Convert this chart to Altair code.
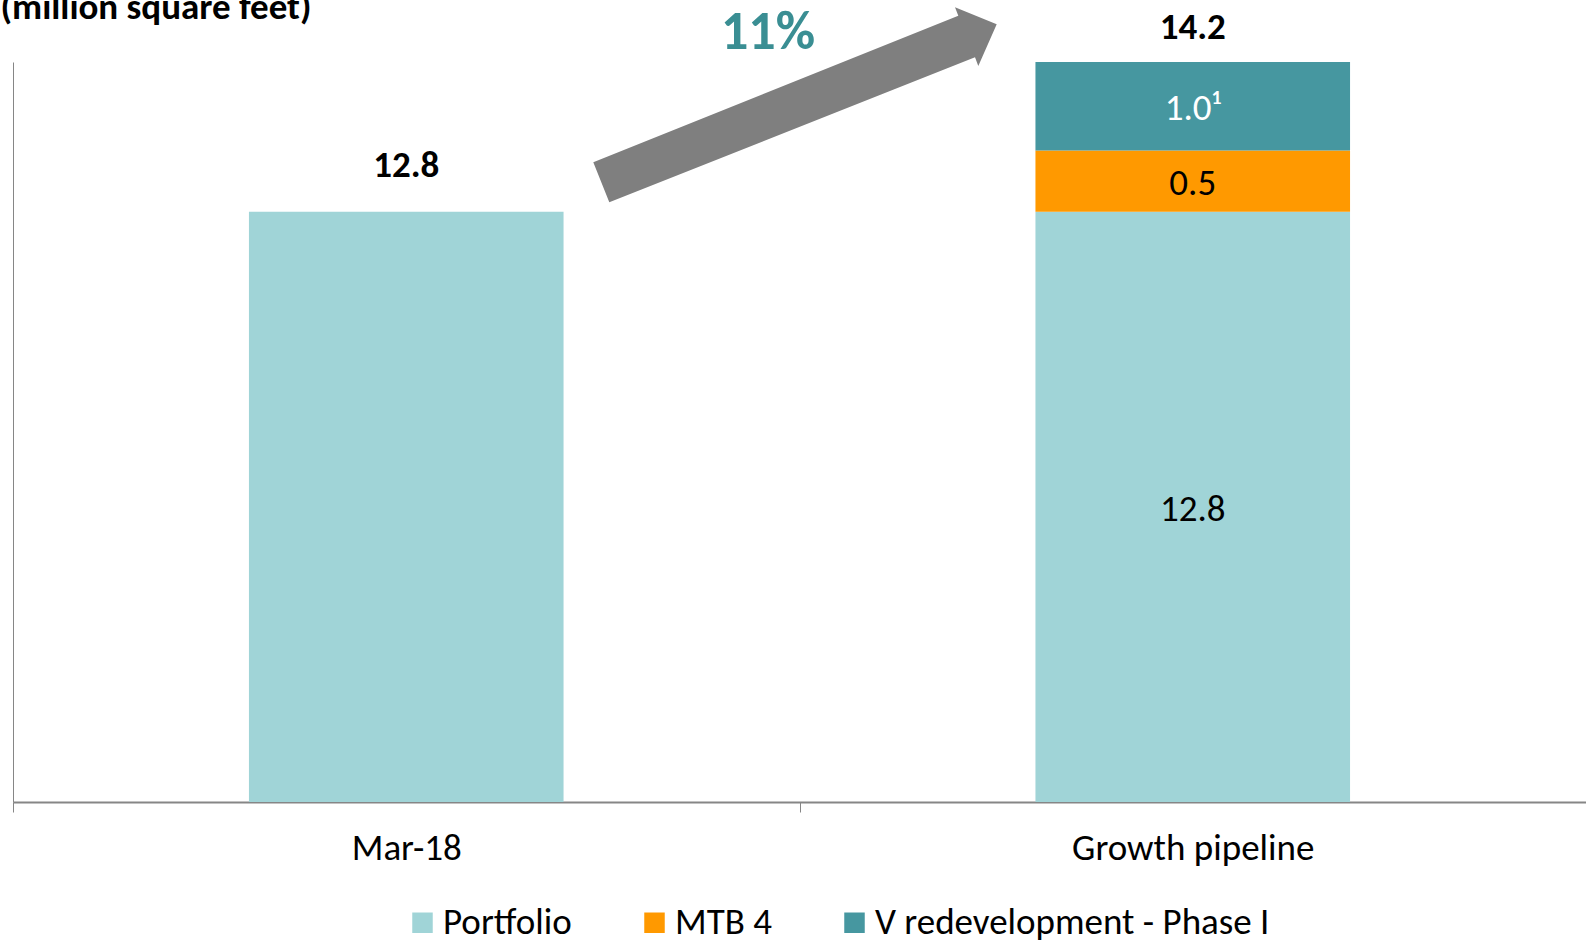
import altair as alt
import pandas as pd

FONT = "Carlito, Lato, sans-serif"

categories = ["Mar-18", "Growth pipeline"]
series = ["Portfolio", "MTB 4", "V redevelopment - Phase I"]
colors = ["#A0D4D7", "#FF9900", "#4697A0"]

# segments (heights as drawn in the reference; the chart is not drawn to scale)
seg_category = ["Mar-18", "Growth pipeline", "Growth pipeline", "Growth pipeline"]
seg_series = ["Portfolio", "Portfolio", "MTB 4", "V redevelopment - Phase I"]
seg_drawn = [12.8, 12.8, 1.33, 1.92]
seg_label = ["", "12.8", "0.5", "1.0\u00b9"]
seg_label_color = ["black", "black", "black", "white"]

totals = [12.8, 14.2]
total_dy = [-46, -34]

growth_pct = f"{round((totals[1] / totals[0] - 1) * 100)}%"

FS = 37

# ---- build tables ----
rows = []
cum = {c: 0.0 for c in categories}
for c, s, h, lab, col in zip(seg_category, seg_series, seg_drawn, seg_label, seg_label_color):
    y0 = cum[c]
    y1 = y0 + h
    cum[c] = y1
    rows.append(dict(category=c, series=s, y0=y0, y1=y1, mid=(y0 + y1) / 2,
                     label=lab, label_color=col))
seg = pd.DataFrame(rows)
tot = pd.DataFrame(dict(category=categories, total=[f"{t:.1f}" for t in totals],
                        top=[cum[c] for c in categories], dy=total_dy))
ymax = max(cum.values())

xenc = alt.X("category:N", sort=categories,
             scale=alt.Scale(paddingInner=0, paddingOuter=0),
             axis=alt.Axis(title=None, labelAngle=0, labelFontSize=FS, labelColor="black",
                           labelFont=FONT, labelLimit=0, domainColor="#868686", domainWidth=2,
                           tickColor="#868686", tickWidth=1, tickSize=10,
                           tickBand="extent", labelPadding=18))
yscale = alt.Scale(domain=[0, ymax], nice=False, zero=True)

base = alt.Chart(seg)

bars = base.mark_bar(width=alt.RelativeBandSize(0.4)).encode(
    x=xenc,
    y=alt.Y("y1:Q", scale=yscale,
            axis=alt.Axis(title="(million square feet)", titleAngle=0, titleAlign="left",
                          titleBaseline="alphabetic", titleX=-13, titleY=-44,
                          titleFontSize=FS, titleFontWeight="bold", titleColor="black",
                          titleFont=FONT, labels=False, ticks=False, grid=False,
                          domainColor="#868686", domainWidth=1)),
    y2="y0:Q",
    color=alt.Color("series:N", scale=alt.Scale(domain=series, range=colors),
                    legend=alt.Legend(title=None, orient="none", legendX=391, legendY=842,
                                      direction="horizontal", symbolType="square",
                                      symbolSize=420, symbolStrokeWidth=0,
                                      labelFontSize=FS, labelFont=FONT, labelColor="black",
                                      labelLimit=0, labelOffset=2, columnPadding=64)),
)

seg_text = base.transform_filter(alt.datum.label != "").mark_text(
    fontSize=FS, font=FONT, baseline="middle", align="center", dy=3
).encode(
    x=alt.X("category:N", sort=categories),
    y=alt.Y("mid:Q"),
    text="label:N",
    color=alt.Color("label_color:N", scale=None),
)

tot_layers = []
for c, d in zip(categories, total_dy):
    tot_layers.append(
        alt.Chart(tot).transform_filter(alt.datum.category == c).mark_text(
            fontSize=FS, font=FONT, fontWeight="bold", baseline="middle",
            align="center", color="black", dy=d
        ).encode(x=alt.X("category:N", sort=categories), y=alt.Y("top:Q"), text="total:N")
    )

ARROW = ("M-201.7,57.3L163.3,-89.3L160,-97.7L201.7,-80.7L183.3,-39L180,-47.7L-185.7,97.3Z")
ann = pd.DataFrame(dict(pct=[growth_pct]))
arrow = alt.Chart(ann).mark_point(shape=ARROW, size=4, filled=True, color="#7F7F7F",
                                  opacity=1, strokeWidth=0).encode(
    x=alt.value(782), y=alt.value(43))
pct_text = alt.Chart(ann).mark_text(fontSize=54, font=FONT, fontWeight="bold",
                                    color="#3A8E93", baseline="middle", align="center").encode(
    x=alt.value(755), y=alt.value(-29), text="pct:N")

chart = alt.layer(bars, seg_text, *tot_layers, arrow, pct_text).properties(
    width=1573, height=740,
    padding={"left": 13, "top": 62, "right": 0, "bottom": 138},
    autosize=alt.AutoSizeParams(type="none"),
).configure(font=FONT, view=alt.ViewConfig(stroke=None))

chart.save("out.html", embed_options={"renderer": "svg", "actions": False})
